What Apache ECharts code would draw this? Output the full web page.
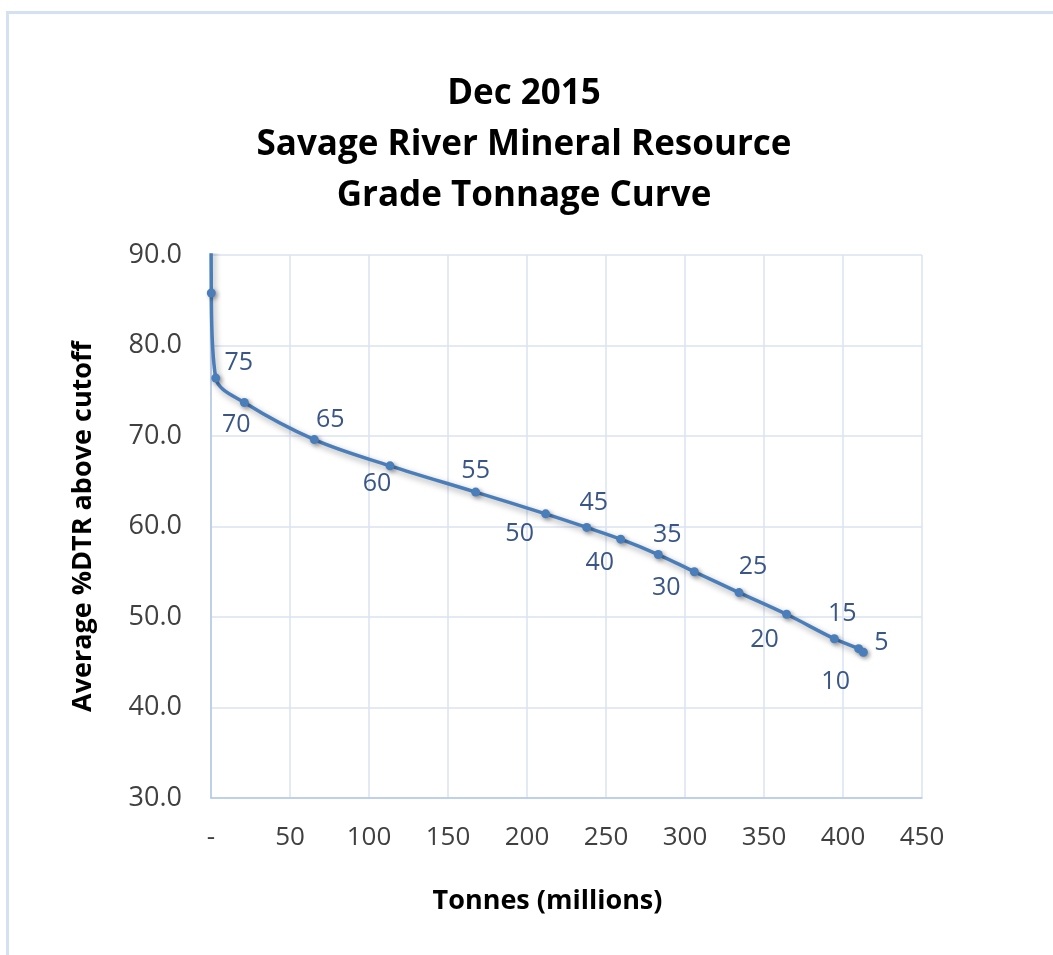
<!DOCTYPE html>
<html>
<head>
<meta charset="utf-8">
<script src="https://cdn.jsdelivr.net/npm/echarts@6/dist/echarts.min.js"></script>
<style>
html,body{margin:0;padding:0;background:#fff;}
#chart{width:1053px;height:955px;}
</style>
</head>
<body>
<div id="chart"></div>
<script>
// Cutoff grades (%DTR) for each point
const cutoffs = [85, 80, 75, 70, 65, 60, 55, 50, 45, 40, 35, 30, 25, 20, 15, 10, 5];
// Tonnes above cutoff (millions)
const tonnes = [0.05, 0.2, 3.0, 21.1, 65.4, 113.3, 167.5, 211.8, 237.8, 259.3, 283.1, 305.9, 334.2, 364.3, 394.5, 409.9, 412.9];
// Average %DTR above cutoff
const grades = [96.0, 85.8, 76.4, 73.7, 69.6, 66.7, 63.8, 61.4, 59.9, 58.6, 56.9, 55.0, 52.7, 50.3, 47.6, 46.5, 46.1];
// Which points carry a cutoff label
const labelled = [false, false, true, true, true, true, true, true, true, true, true, true, true, true, true, true, true];

// label placement (style only): label centre relative to point centre, px
const labelOffsets = {
  75: [23, -15], 70: [-8, 22], 65: [16, -20], 60: [-13, 18], 55: [0, -21],
  50: [-26, 20], 45: [7, -25], 40: [-21, 24], 35: [9, -20], 30: [-28, 16],
  25: [14, -26], 20: [-22, 26], 15: [8, -25], 10: [-23, 33], 5: [18, -9]
};
const SYM = 9;

const data = tonnes.map((t, i) => {
  const item = { value: [t, grades[i]] };
  if (labelled[i]) {
    const o = labelOffsets[cutoffs[i]];
    item.label = {
      show: true, formatter: String(cutoffs[i]),
      position: [o[0] + SYM / 2, o[1] + SYM / 2], align: 'center', verticalAlign: 'middle'
    };
  }
  return item;
});

const chart = echarts.init(document.getElementById('chart'), null, { renderer: 'canvas' });
const font = 'Open Sans';
chart.setOption({
  backgroundColor: '#ffffff',
  animation: false,
  graphic: [{
    type: 'rect', left: 5, top: 10, shape: { width: 1200, height: 1100 },
    style: { fill: 'none', stroke: '#d5e0f0', lineWidth: 3 }, silent: true
  }],
  title: {
    text: 'Dec 2015\nSavage River Mineral Resource\nGrade Tonnage Curve',
    left: 519, top: 64, textAlign: 'center',
    textStyle: { fontFamily: font, fontWeight: 'bold', fontSize: 35, lineHeight: 51, color: '#000' }
  },
  grid: { left: 211, right: 131, top: 255, bottom: 157, containLabel: false },
  xAxis: {
    type: 'value', min: 0, max: 450, interval: 50,
    name: 'Tonnes (millions)', nameLocation: 'middle', nameGap: 90,
    nameTextStyle: { fontFamily: font, fontWeight: 'bold', fontSize: 27, color: '#000', padding: [0, 38, 0, 0] },
    axisLine: { show: true, lineStyle: { color: '#b4c7e7', width: 1.5 } },
    axisTick: { show: false },
    axisLabel: {
      fontFamily: font, fontSize: 26, color: '#404040', margin: 27,
      formatter: v => v === 0 ? '-' : String(v)
    },
    splitLine: { show: true, lineStyle: { color: '#dae3f3', width: 1.5 } }
  },
  yAxis: {
    type: 'value', min: 30, max: 90, interval: 10,
    name: 'Average %DTR above cutoff', nameLocation: 'middle', nameGap: 114, nameRotate: 90,
    nameTextStyle: { fontFamily: font, fontWeight: 'bold', fontSize: 27, color: '#000' },
    axisLine: { show: true, lineStyle: { color: '#b4c7e7', width: 1.5 } },
    axisTick: { show: false },
    axisLabel: {
      fontFamily: font, fontSize: 27, color: '#404040', margin: 29,
      formatter: v => v.toFixed(1)
    },
    splitLine: { show: true, lineStyle: { color: '#dae3f3', width: 1.5 } }
  },
  series: [{
    type: 'line',
    data: data,
    smooth: 0.35,
    clip: true,
    symbol: 'circle', symbolSize: SYM,
    lineStyle: { color: '#4a7ebb', width: 3.5, shadowColor: 'rgba(0,0,0,0.35)', shadowBlur: 6, shadowOffsetX: 2, shadowOffsetY: 3 },
    itemStyle: { color: '#4a7ebb', shadowColor: 'rgba(0,0,0,0.35)', shadowBlur: 4, shadowOffsetX: 2, shadowOffsetY: 2 },
    label: { fontFamily: font, fontSize: 25, color: '#3a5687' },
    labelLayout: { hideOverlap: false },
    z: 3
  }]
});
</script>
</body>
</html>
